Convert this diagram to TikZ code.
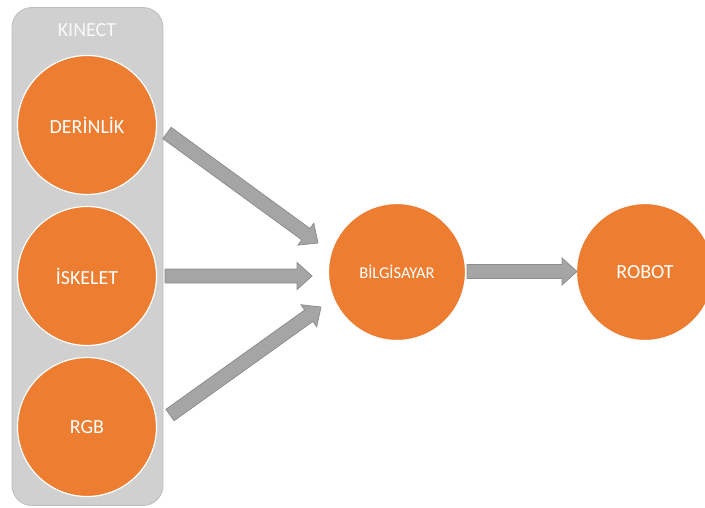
\documentclass[tikz,border=0pt]{standalone}
\usepackage{fontspec}
\setmainfont{Carlito}
\usetikzlibrary{calc}
\definecolor{orng}{HTML}{ED7D31}
\definecolor{arrfill}{HTML}{A5A5A5}
\definecolor{arrline}{HTML}{8E8E8E}
\definecolor{panelfill}{HTML}{D0D0D0}
\definecolor{panelline}{HTML}{BDBDBD}
\newcommand{\blockarrow}[2]{%
  \coordinate (bb) at ($(#2)!15pt!(#1)$);
  \draw[blockarr] ($(#1)!7pt!90:(#2)$) -- ($(bb)!7pt!-90:(#1)$) -- ($(bb)!13.5pt!-90:(#1)$) -- (#2)
    -- ($(bb)!13.5pt!90:(#1)$) -- ($(bb)!7pt!90:(#1)$) -- ($(#1)!7pt!-90:(#2)$) -- cycle;}
\begin{document}
\begin{tikzpicture}[x=1pt,y=-1pt,
  circ/.style={circle,fill=orng,draw=white,line width=1.2pt,minimum size=139pt,inner sep=0pt,text=white,font=\fontsize{20}{23}\selectfont},
  blockarr/.style={fill=arrfill,draw=arrline,line width=0.8pt,line join=miter}]
\useasboundingbox (0,0) rectangle (705,507);
\begin{scope}
\clip (0,0) rectangle (705,507);
\node[draw=panelline,fill=panelfill,rounded corners=20pt,minimum width=151pt,minimum height=498pt,line width=0.8pt] (kinect) at (87.5,256.5) {};
\node[text=white!95!gray,font=\fontsize{20}{23}\selectfont] (klabel) at (87,30) {KINECT};
\node[circ] (der) at (87,125) {DERİNLİK};
\node[circ] (isk) at (87,276) {İSKELET};
\node[circ] (rgb) at (87,427) {RGB};
\node[circ,minimum size=137pt,font=\fontsize{16.5}{19}\selectfont] (bil) at (397,272) {BİLGİSAYAR};
\node[circ,minimum size=137pt] (rob) at (645,272) {ROBOT};
\coordinate (s1) at (167,133);
\coordinate (e1) at (318,243);
\coordinate (s2) at (165,276);
\coordinate (e2) at (312,276);
\coordinate (s3) at (170,415);
\coordinate (e3) at (321,307);
\coordinate (s4) at (467,271.5);
\coordinate (e4) at (577,271.5);
\blockarrow{s1}{e1}
\blockarrow{s2}{e2}
\blockarrow{s3}{e3}
\blockarrow{s4}{e4}
\end{scope}
\end{tikzpicture}
\end{document}
